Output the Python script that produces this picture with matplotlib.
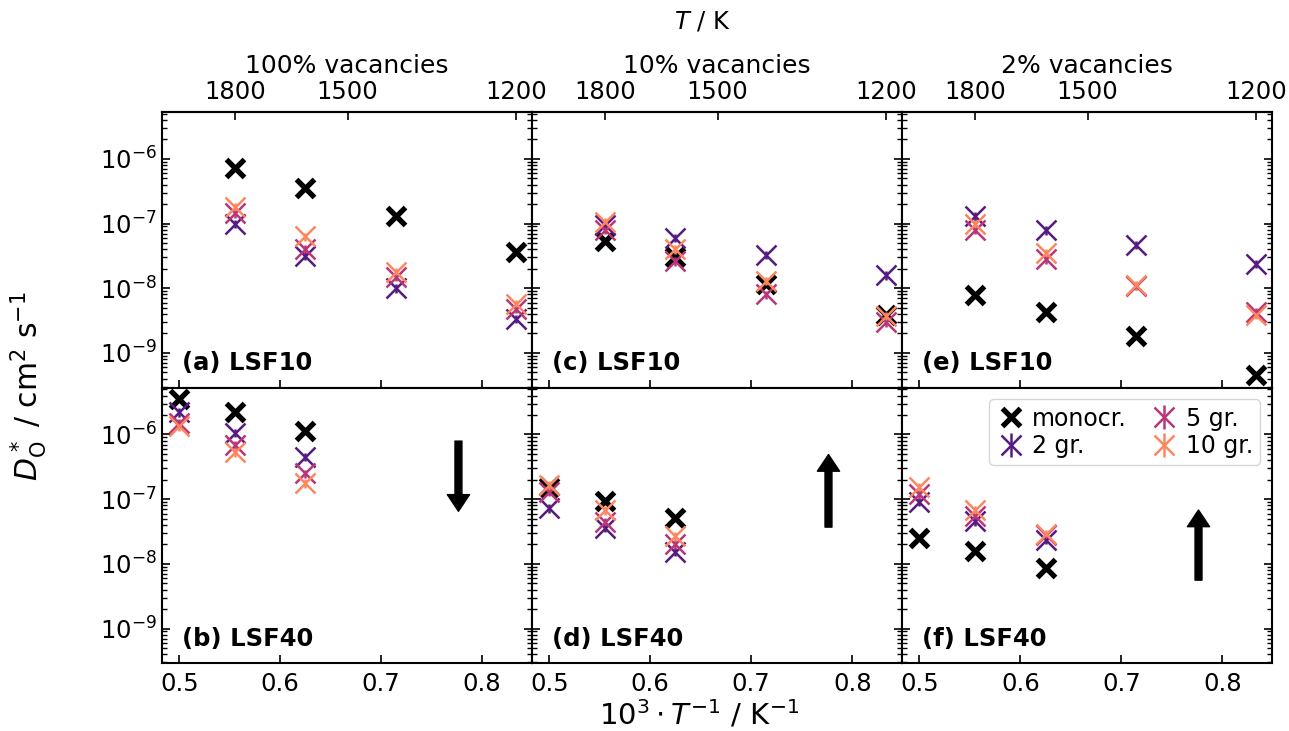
import numpy as np
from matplotlib import pyplot as plt
from matplotlib import ticker

nan = np.nan

# temperatures of the simulations / K
temps = np.array([2000, 1800, 1600, 1400, 1200])

vacancies = ['100% vacancies', '10% vacancies', '2% vacancies']
panel_labels = [['(a) LSF10', '(c) LSF10', '(e) LSF10'],
                ['(b) LSF40', '(d) LSF40', '(f) LSF40']]
series_names = ['monocr.', '2 gr.', '5 gr.', '10 gr.']

# D_O* / cm^2 s^-1, order: monocr., 2 gr., 5 gr., 10 gr.
lsf10_100 = [[nan, 7.2e-7, 3.5e-7, 1.3e-7, 3.6e-8],
             [nan, 1.0e-7, 3.2e-8, 1.0e-8, 3.4e-9],
             [nan, 1.45e-7, 4.1e-8, 1.5e-8, 4.8e-9],
             [nan, 1.8e-7, 6.3e-8, 1.8e-8, 5.7e-9]]
lsf40_100 = [[3.6e-6, 2.2e-6, 1.12e-6, nan, nan],
             [2.2e-6, 1.06e-6, 4.5e-7, nan, nan],
             [1.5e-6, 7.0e-7, 2.5e-7, nan, nan],
             [1.35e-6, 5.3e-7, 1.78e-7, nan, nan]]
lsf10_10 = [[nan, 5.3e-8, 3.0e-8, 1.15e-8, 3.8e-9],
            [nan, 9.5e-8, 6.0e-8, 3.3e-8, 1.6e-8],
            [nan, 8.0e-8, 2.6e-8, 8.0e-9, 3.0e-9],
            [nan, 1.05e-7, 4.0e-8, 1.3e-8, 3.7e-9]]
lsf40_10 = [[1.55e-7, 9.5e-8, 5.2e-8, nan, nan],
            [7.2e-8, 3.6e-8, 1.55e-8, nan, nan],
            [1.3e-7, 4.5e-8, 2.0e-8, nan, nan],
            [1.65e-7, 6.8e-8, 2.7e-8, nan, nan]]
lsf10_2 = [[nan, 7.8e-9, 4.3e-9, 1.8e-9, 4.6e-10],
           [nan, 1.3e-7, 7.9e-8, 4.7e-8, 2.4e-8],
           [nan, 8.0e-8, 2.8e-8, 1.1e-8, 4.3e-9],
           [nan, 1.0e-7, 3.5e-8, 1.12e-8, 3.9e-9]]
lsf40_2 = [[2.5e-8, 1.6e-8, 8.5e-9, nan, nan],
           [9.2e-8, 4.6e-8, 2.35e-8, nan, nan],
           [1.2e-7, 5.5e-8, 2.75e-8, nan, nan],
           [1.55e-7, 6.8e-8, 2.9e-8, nan, nan]]

data = [[lsf10_100, lsf10_10, lsf10_2],
        [lsf40_100, lsf40_10, lsf40_2]]

# relative error of the grain boundary series
rel_err = 0.15

# arrow (tail, tip) in D units for the LSF40 panels
arrows = [(7.9e-7, 6.5e-8), (3.7e-8, 4.9e-7), (5.6e-9, 6.8e-8)]

colors = ['black', '#571a80', '#b73779', '#fb8761']
inv_T = 1000 / temps

fig, axes = plt.subplots(nrows=2, ncols=3, figsize=(12.89, 7.31), dpi=100, sharex=True, sharey=True)
fig.subplots_adjust(left=0.1254, right=0.9866, top=0.8468, bottom=0.0926, wspace=0, hspace=0)


def inv(x):
    x = np.asarray(x, dtype=float)
    with np.errstate(divide='ignore'):
        return np.where(x == 0, np.inf, 1000 / x)


for r in range(2):
    for c in range(3):
        ax = axes[r, c]
        for s, name in enumerate(series_names):
            vals = np.array(data[r][c][s])
            if s == 0:
                ax.plot(inv_T, vals, ls='none', marker='x', ms=13, mew=3.8, color=colors[s], label=name)
            else:
                ax.errorbar(inv_T, vals, yerr=vals * rel_err, ls='none', marker='x', ms=14, mew=1.8,
                            elinewidth=1.8, color=colors[s], label=name)
        ax.set_yscale('log')
        ax.set_ylim(2.9e-10, 5.3e-6)
        ax.set_xlim(0.4826, 0.849)
        ax.set_xticks([0.5, 0.6, 0.7, 0.8])
        ax.yaxis.set_major_locator(ticker.LogLocator(base=10, numticks=20))
        ax.yaxis.set_minor_locator(ticker.LogLocator(base=10, subs=np.arange(2, 10), numticks=20))
        ax.yaxis.set_minor_formatter(ticker.NullFormatter())
        ax.tick_params(axis='both', which='both', direction='in', labelsize=17.5)
        ax.tick_params(axis='y', which='both', left=True, right=True)
        ax.tick_params(axis='y', which='major', length=6, width=1.2)
        ax.tick_params(axis='y', which='minor', length=3.5, width=1)
        ax.tick_params(axis='x', which='major', length=6, width=1.2, top=False, pad=6)
        for sp in ax.spines.values():
            sp.set_linewidth(1.5)
        ax.text(0.054, 0.063, panel_labels[r][c], transform=ax.transAxes, fontsize=17.5,
                fontweight='bold', va='baseline')
        if r == 1:
            tail, tip = arrows[c]
            ax.annotate('', xy=(0.7765, tip), xytext=(0.7765, tail),
                        arrowprops=dict(facecolor='black', edgecolor='black', width=5,
                                        headwidth=16, headlength=12))
        if r == 0:
            secax = ax.secondary_xaxis('top', functions=(inv, inv))
            secax.set_xticks([1800, 1500, 1200])
            secax.xaxis.set_minor_locator(ticker.NullLocator())
            secax.tick_params(direction='in', labelsize=17.5, length=6, width=1.2, pad=6)
            secax.spines['top'].set_linewidth(1.5)
            ax.set_title(vacancies[c], fontsize=18, pad=5)

axes[1, 2].legend(loc='upper right', ncol=2, fontsize=17, handletextpad=0.3,
                  columnspacing=1.0, labelspacing=0.15, borderpad=0.3, handlelength=1.2,
                  borderaxespad=0.5)

fig.text(0.545, 0.97, '$T$ / K', fontsize=17.5, ha='center', va='center')
fig.text(0.542, 0.022, r'$10^3\cdot T^{-1}$ / K$^{-1}$', fontsize=21, ha='center', va='center')
fig.text(0.022, 0.472, r'$D_\mathrm{O}^*$ / cm$^2$ s$^{-1}$', fontsize=21.5, ha='center', va='center',
         rotation=90)

plt.savefig('out.png', dpi=100)
plt.close(fig)
